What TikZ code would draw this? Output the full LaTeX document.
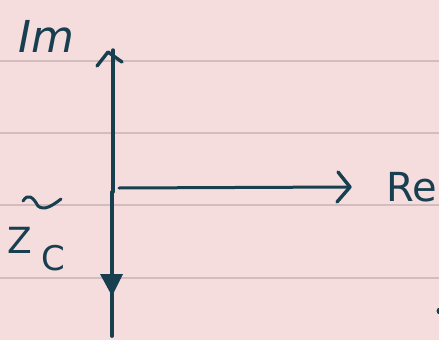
\documentclass[tikz,border=0pt]{standalone}
\usepackage{fontspec}
\setmainfont{DejaVu Sans}
\usetikzlibrary{arrows.meta}
\definecolor{paper}{HTML}{F5DDDE}
\definecolor{rule}{HTML}{D2BCBD}
\definecolor{ink}{HTML}{173F4F}
\tikzset{
  ruling/.style={rule, line width=2.6pt},
  axis/.style={ink, line width=3.4pt, line cap=round, line join=round},
  hand/.style={ink, inner sep=0pt, anchor=base west},
}
\begin{document}
\begin{tikzpicture}[x=1pt,y=-1pt]
\fill[paper] (0,0) rectangle (439,340);
\useasboundingbox (0,0) rectangle (439,340);
% ruled lines
\foreach \yy in {61,133,205,278} \draw[ruling] (0,\yy) -- (439,\yy);
% coordinates
\coordinate (top) at (113,50);
\coordinate (mid) at (113,192);
\coordinate (bot) at (112,336);
\coordinate (hstart) at (119,188);
\coordinate (hend) at (350,187);
% vertical axis
\draw[axis] (top) -- (mid);
\draw[axis, line width=3.8pt] (112,192) -- (bot);
\draw[axis] (97,66) -- (108,52) -- (122,62);
% downward filled arrowhead
\fill[ink] (100,274) -- (123,274) -- (112,296) -- cycle;
% horizontal axis
\draw[axis, line width=3pt] (hstart) -- (hend);
\draw[axis] (338,172) -- (hend) -- (337,202);
% labels
\node[hand, font=\fontsize{44}{44}\selectfont\itshape] (im) at (18,52) {Im};
\node[hand, font=\fontsize{40}{40}\selectfont] (re) at (386,201) {Re};
\node[hand, font=\fontsize{36}{36}\selectfont] (z) at (7,253) {Z};
\node[hand, font=\fontsize{34}{34}\selectfont] (c) at (41,270) {C};
\draw[axis, line width=3pt] (23,201) .. controls (28,193) and (33,197) .. (38,206) .. controls (44,211) and (52,206) .. (61,199);
% edge blob
\fill[ink] (440,311) circle (3.5);
\end{tikzpicture}
\end{document}
